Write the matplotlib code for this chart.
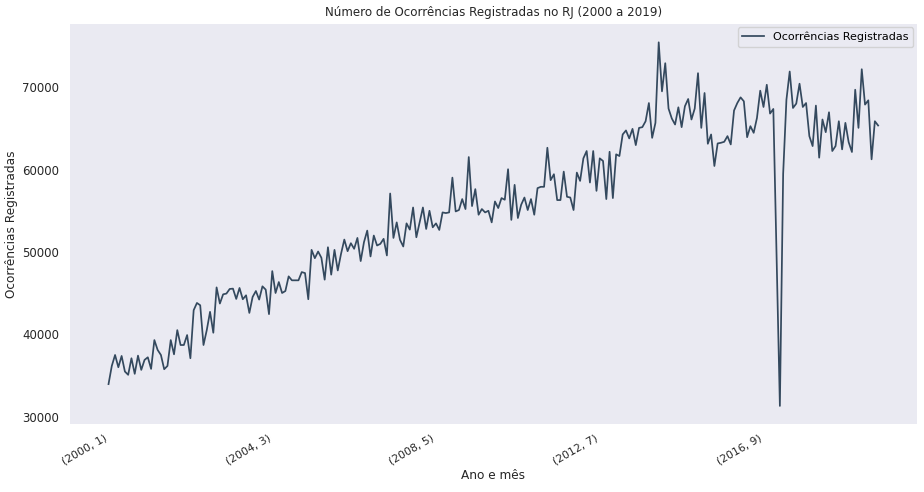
import matplotlib
matplotlib.use("Agg")
import matplotlib.pyplot as plt
import numpy as np

# Monthly values, Jan 2000 .. Aug 2019
ocorrencias = [
    33950, 36160, 37490, 36000, 37370, 35480, 35080, 37090, 35200, 37410,
    35680, 36890, 37210, 35800, 39300, 38100, 37490, 35760, 36160, 39300,
    37570, 40510, 38700, 38700, 39910, 37090, 42930, 43810, 43530, 38700,
    40510, 42730, 40190, 45700, 43740, 44860, 44950, 45510, 45550, 44300,
    45630, 44260, 44740, 42600, 44540, 45260, 44220, 45830, 45430, 42450,
    47680, 45020, 46350, 45020, 45260, 47040, 46560, 46560, 46560, 47560,
    47440, 44260, 50260, 49250, 50060, 49300, 46640, 50580, 47250, 50260,
    47760, 49780, 51510, 50100, 51070, 50390, 51710, 48900, 51190, 52600,
    49460, 52000, 50790, 50990, 51600, 49580, 57110, 51710, 53600, 51480,
    50670, 53480, 52720, 55410, 51790, 53600, 55410, 52800, 55010, 53000,
    53480, 52680, 54810, 54730, 54810, 59040, 54930, 55100, 56430, 55220,
    61540, 55580, 57640, 54530, 55220, 54810, 55010, 53600, 56140, 55340,
    56550, 56350, 60060, 53900, 58160, 54130, 55740, 56620, 55100, 56430,
    54530, 57760, 57920, 57920, 62670, 58730, 59450, 56310, 56310, 59770,
    56710, 56620, 55100, 59650, 58640, 61380, 62270, 58440, 62270, 57430,
    61380, 61060, 56430, 62180, 56550, 61870, 61660, 64280, 64770, 63800,
    64960, 62990, 65080, 65170, 65890, 68100, 63870, 65690, 75480, 69520,
    72940, 67430, 66220, 65490, 67580, 65170, 67710, 68590, 66100, 67430,
    71730, 65080, 69320, 63150, 64280, 60450, 63190, 63270, 63390, 64080,
    63070, 67190, 68100, 68790, 68310, 63950, 65290, 64480, 66290, 69600,
    67620, 70320, 66820, 67380, 49500, 31300, 59500, 68500, 71930, 67500,
    68030, 70450, 67620, 68100, 64080, 62870, 67790, 61460, 66100, 64560,
    66980, 62270, 62870, 65890, 62470, 65690, 63350, 62150, 69720, 65080,
    72210, 67910, 68430, 61260, 65890, 65370,
]
anos = [2000 + k // 12 for k in range(len(ocorrencias))]
meses = [1 + k % 12 for k in range(len(ocorrencias))]
tick_step = 50

titulo = "Número de Ocorrências Registradas no RJ (2000 a 2019)"
xlabel = "Ano e mês"
ylabel = "Ocorrências Registradas"
serie = "Ocorrências Registradas"

plt.rcParams['font.family'] = ['DejaVu Sans']
fig = plt.figure(figsize=(9.24, 4.92), dpi=100)
ax = fig.add_axes([0.0758, 0.138, 0.9162, 0.813])
ax.set_facecolor('#EAEAF2')
for s in ax.spines.values():
    s.set_visible(False)

x = np.arange(len(ocorrencias))
ax.plot(x, ocorrencias, color='#34495e', lw=1.25, label=serie)
ax.margins(x=0.05, y=0.05)

ticks = list(range(0, len(ocorrencias), tick_step))
ax.set_xticks(ticks)
ax.set_xticklabels([f"({anos[t]}, {meses[t]})" for t in ticks],
                   rotation=30, ha='right', fontsize=7.8, color='#262626')
ax.tick_params(axis='y', labelsize=8.5, colors='#262626', length=0, pad=8)
ax.tick_params(axis='x', length=0, pad=6)
ax.set_yticks([30000, 40000, 50000, 60000, 70000])
ax.set_xlabel(xlabel, fontsize=8.7, color='#262626', labelpad=2)
ax.set_ylabel(ylabel, fontsize=8.7, color='#262626', labelpad=2.5)
ax.set_title(titulo, fontsize=8.6, color='#262626')
leg = ax.legend(loc='upper right', fontsize=8.0, frameon=True, facecolor='#EAEAF2',
                edgecolor='#cccccc', borderaxespad=0.3)
fig.savefig('out.png', dpi=100)
